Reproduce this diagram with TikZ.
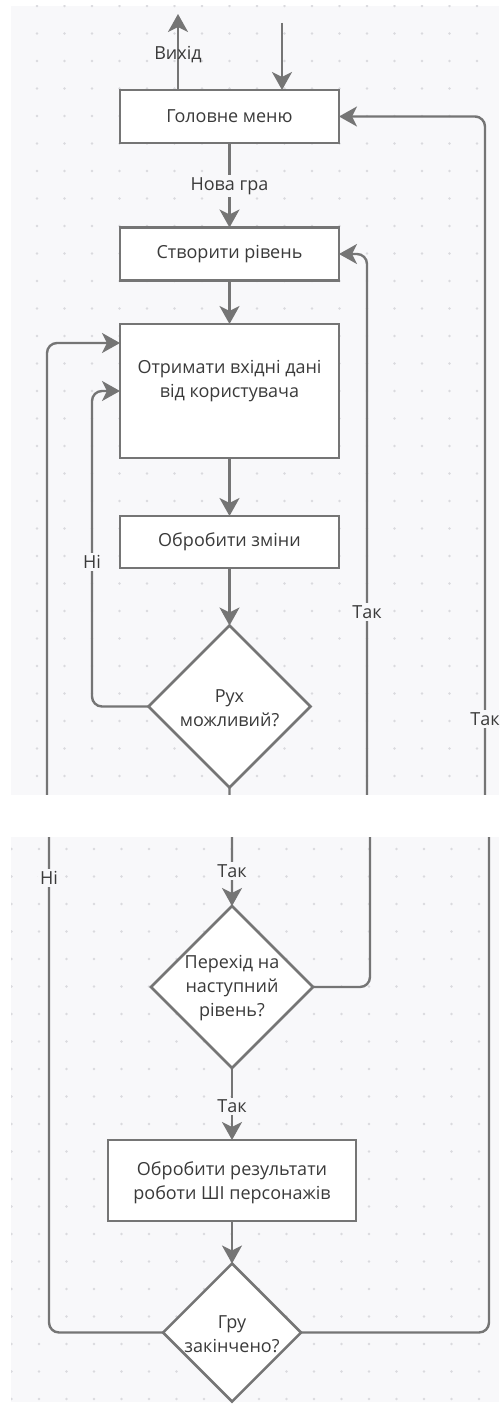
\documentclass[tikz,border=0pt]{standalone}
\usepackage{fontspec}
\setmainfont{Open Sans}
\usetikzlibrary{shapes.geometric,arrows.meta,calc}
\definecolor{bg}{HTML}{F8F8FA}
\definecolor{dotc}{HTML}{DADADE}
\definecolor{ln}{HTML}{757575}
\definecolor{tx}{HTML}{3A3A3A}
\tikzset{
  txt/.style={text=tx, align=center, font=\fontsize{18}{24}\selectfont},
  box/.style={draw=ln, line width=2.5pt, fill=white, rectangle, inner sep=0pt, outer sep=0pt, txt},
  dia/.style={draw=ln, line width=2.5pt, fill=white, diamond, inner sep=0pt, outer sep=0pt},
  arr/.style={draw=ln, line width=2.4pt, rounded corners=10pt, -{Stealth[length=18pt,width=20pt,inset=5pt]}},
  lab/.style={txt, fill=bg, inner sep=2pt},
  griddot/.style={fill=dotc}
}
\begin{document}
\begin{tikzpicture}[x=1pt,y=-1pt]
\useasboundingbox (0,0) rectangle (499,1410);
\fill[white] (0,0) rectangle (499,1410);
% panels
\fill[bg] (11,6) rectangle (499,795);
\fill[bg] (11,837) rectangle (499,1402);
\begin{scope}
  \clip (11,6) rectangle (499,795);
  \foreach \i in {0,...,18} \foreach \j in {0,...,29}
    \fill[griddot] (9.5+27.5*\i, 6+27.5*\j) circle (1.3pt);
\end{scope}
\begin{scope}
  \clip (11,837) rectangle (499,1402);
  \foreach \i in {0,...,18} \foreach \j in {0,...,21}
    \fill[griddot] (11.5+27.5*\i, 849+27.5*\j) circle (1.3pt);
\end{scope}

% nodes
\node[box, minimum width=219pt, minimum height=53pt] (menu) at (229.5,116.5) {Головне меню};
\node[box, minimum width=219pt, minimum height=53pt] (create) at (229.5,254) {Створити рівень};
\node[box, minimum width=219pt, minimum height=134pt] (input) at (229.5,391) {};
\node[txt] (inputT) at (229.5,381) {Отримати вхідні дані\\від користувача};
\node[box, minimum width=219pt, minimum height=52pt] (changes) at (229.5,542) {Обробити зміни};
\node[dia, minimum width=162pt, minimum height=162pt] (move) at (229.5,706.5) {};
\node[txt] (moveT) at (229.5,708) {Рух\\можливий?};

\node[dia, minimum width=162pt, minimum height=162pt] (next) at (232,987) {};
\node[txt] (nextT) at (232,988) {Перехід на\\наступний\\рівень?};
\node[box, minimum width=248pt, minimum height=81pt] (results) at (232,1180.5) {};
\node[txt] (resultsT) at (232,1183) {Обробити результати\\роботи ШІ персонажів};
\node[dia, minimum width=138pt, minimum height=138pt] (over) at (232,1332.5) {};
\node[txt] (overT) at (232,1334) {Гру\\закінчено?};

% helper coordinates
\coordinate (exitTop) at (178,14);
\coordinate (entryTop) at (282,23);
\coordinate (noX) at (92,560);
\coordinate (inA) at ($(input.west)+(0,-48)$);
\coordinate (cGapT) at (229.5,816);
\coordinate (cGapB) at (232,816);
\coordinate (lGapT) at (47,816);
\coordinate (lGapB) at (49,816);
\coordinate (mGapT) at (367,816);
\coordinate (mGapB) at (370,816);
\coordinate (rGapT) at (485,816);
\coordinate (rGapB) at (489,816);

% connectors
\draw[arr] (menu.north -| exitTop) -- (exitTop);
\draw[arr] (entryTop) -- (entryTop |- menu.north);
\draw[arr] (menu.south) -- (create.north);
\draw[arr] (create.south) -- (input.north);
\draw[arr] (input.south) -- (changes.north);
\draw[arr] (changes.south) -- (move.north);
\draw[arr] (move.west) -| (noX) |- (input.west);
\draw[arr] (move.south) -- (cGapT) -- (cGapB) -- (next.north);
\draw[arr] (next.east) -| (mGapB) -- (mGapT) |- (create.east);
\draw[arr] (next.south) -- (results.north);
\draw[arr] (results.south) -- (over.north);
\draw[arr] (over.east) -| (rGapB) -- (rGapT) |- (menu.east);
\draw[arr] (over.west) -| (lGapB) -- (lGapT) |- (inA);

% labels
\node[txt] (exitL) at (178,55) {Вихід};
\node[lab] (newL) at (229.5,186) {Нова гра};
\node[lab] (noL1) at (92,562) {Ні};
\node[lab] (yesM) at (367,612) {Так};
\node[lab] (yesR) at (485,719) {Так};
\node[lab] (yesC1) at (232,871) {Так};
\node[lab] (noL2) at (49,878) {Ні};
\node[lab] (yesC2) at (232,1106) {Так};

% gap between the two panels
\fill[white] (0,795) rectangle (499,837);
\end{tikzpicture}
\end{document}
